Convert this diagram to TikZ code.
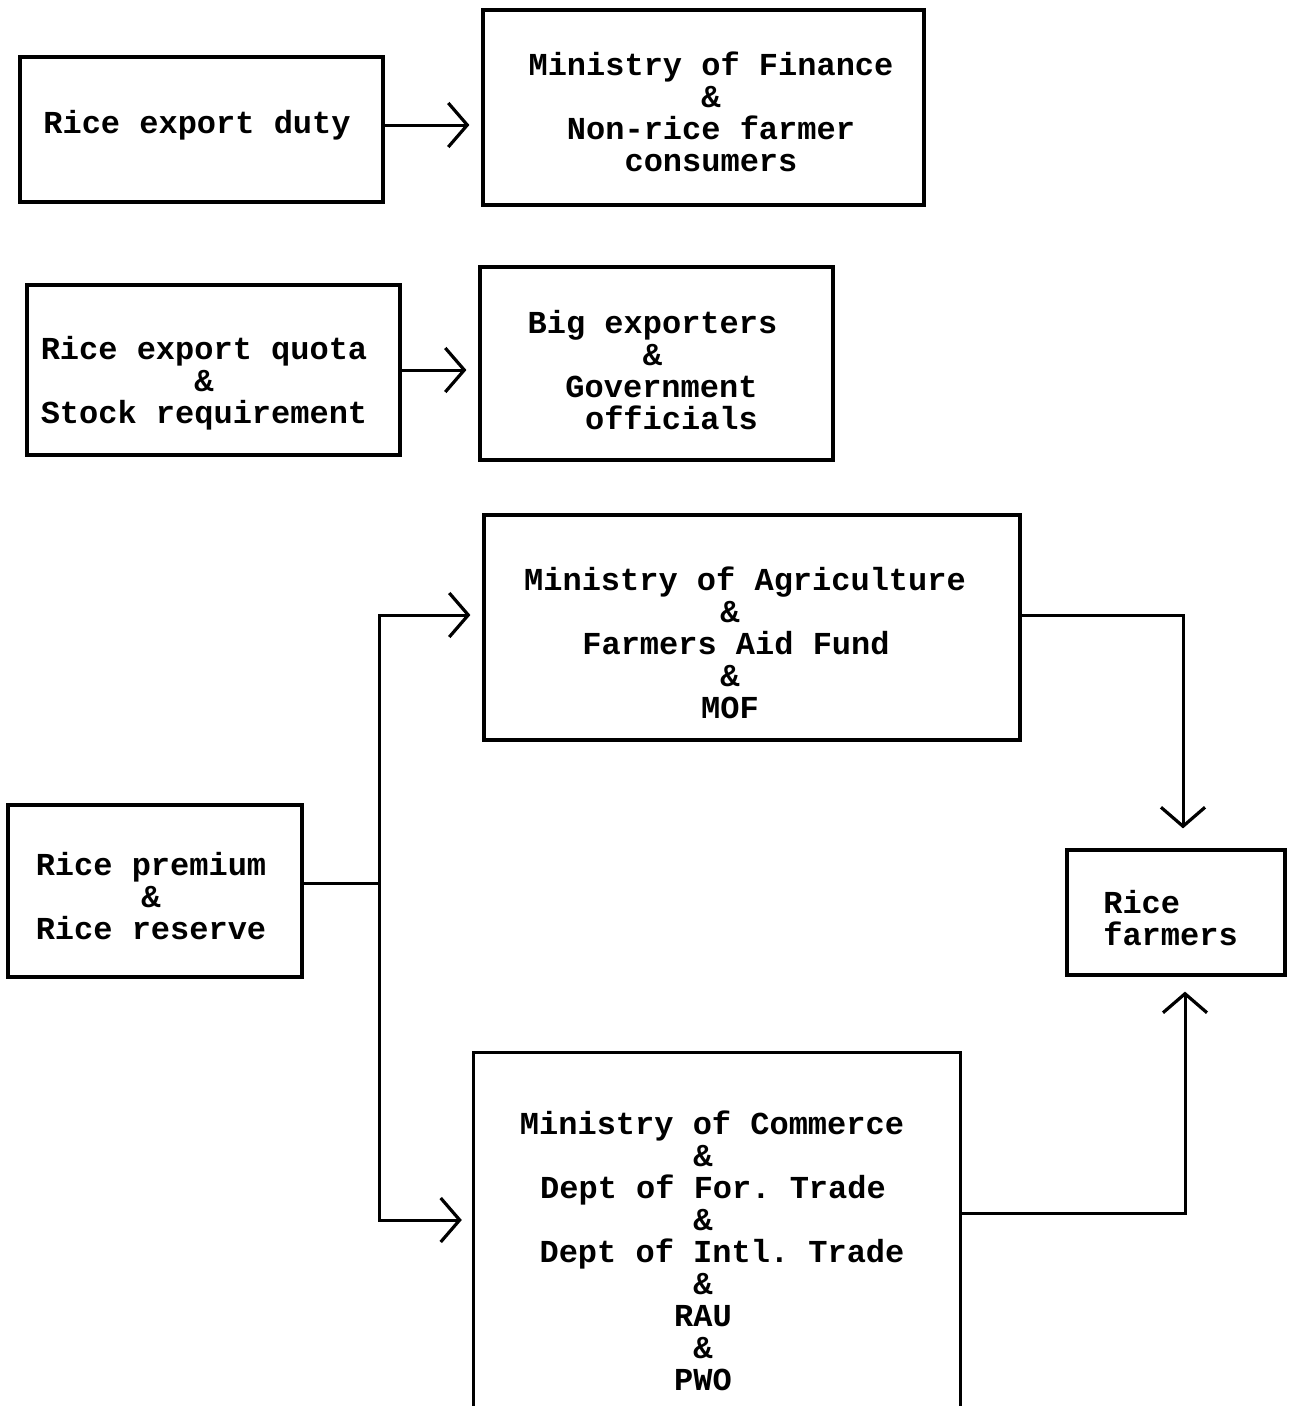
\documentclass[tikz,border=0pt]{standalone}
\usepackage{fontspec}
\setmonofont{Liberation Mono}
\usetikzlibrary{arrows.meta}
\begin{document}
\begin{tikzpicture}[x=1pt,y=-1pt,
  txt/.style={font=\ttfamily\bfseries\fontsize{32}{32}\selectfont, inner sep=0pt},
  box/.style={draw, line width=3.2pt, inner sep=0pt},
  conn/.style={line width=3pt},
  arr/.style={conn, -{Straight Barb[length=19pt,width=44pt,line width=3.2pt]}, shorten >=12pt}
]
\fill[white] (0,0) rectangle (1297,1406);
\useasboundingbox (0,0) rectangle (1297,1406);

% boxes (text placed by label to match the typed positions)
\node[box, minimum width=363pt, minimum height=145pt,
  label={[txt, xshift=-4.5pt, yshift=4.5pt]center:Rice export duty}] (duty) at (201.5,129.5) {};

\node[box, minimum width=441pt, minimum height=195pt,
  label={[txt, align=center, xshift=7.5pt, yshift=-4pt]center:Ministry of Finance\\\&\\Non-rice farmer\\consumers}] (mof) at (703.5,107.5) {};

\node[box, minimum width=373pt, minimum height=170pt,
  label={[txt, align=center, xshift=-9.5pt, yshift=-13.5pt]center:Rice export quota\\\&\\Stock requirement}] (quota) at (213.5,370) {};

\node[box, minimum width=353pt, minimum height=193pt,
  label={[txt, align=center, xshift=-4pt, yshift=-6.5pt]center:Big exporters\\\&\\\hspace*{18pt}Government\\\hspace*{38pt}officials}] (big) at (656.5,363.5) {};

\node[box, minimum width=536pt, minimum height=225pt,
  label={[txt, align=center, xshift=-22pt, yshift=-15.5pt]center:\hspace*{30pt}Ministry of Agriculture\\\&\\\hspace*{12pt}Farmers Aid Fund\\\&\\MOF}] (agri) at (752,627.5) {};

\node[box, minimum width=294pt, minimum height=172pt,
  label={[txt, align=center, xshift=-4pt, yshift=-5pt]center:Rice premium\\\&\\Rice reserve}] (prem) at (155,891) {};

\node[box, minimum width=218pt, minimum height=125pt,
  label={[txt, align=left, xshift=-5.5pt, yshift=-5.5pt]center:Rice\\farmers}] (farm) at (1176,912.5) {};

\node[inner sep=0pt, minimum width=486pt, minimum height=353pt,
  label={[txt, align=center, xshift=-14pt, yshift=-21pt]center:\hspace*{18pt}Ministry of Commerce\\\&\\\hspace*{20pt}Dept of For. Trade\\\&\\\hspace*{38pt}Dept of Intl. Trade\\\&\\RAU\\\&\\PWO}] (com) at (717,1229.5) {};
\draw[line width=3.2pt] (com.south west) -- (com.north west) -- (com.north east) -- (com.south east);

% connectors
\draw[arr] ([yshift=4.5pt]duty.east) -- ([yshift=4.5pt]duty.east -| mof.west);
\draw[arr] (quota.east) -- (quota.east -| big.west);

\draw[conn] ([yshift=8pt]prem.east) -- ++(76,0) coordinate (j);
\draw[arr] (j) |- ([yshift=12.5pt]agri.west);
\draw[arr] (j) |- ([yshift=9.5pt]com.west);

\draw[arr, shorten >=20pt] ([yshift=12.5pt]agri.east) -| ([xshift=7pt]farm.north);
\draw[arr, shorten >=15pt] ([yshift=16.5pt]com.east) -| ([xshift=9pt]farm.south);
\end{tikzpicture}
\end{document}
